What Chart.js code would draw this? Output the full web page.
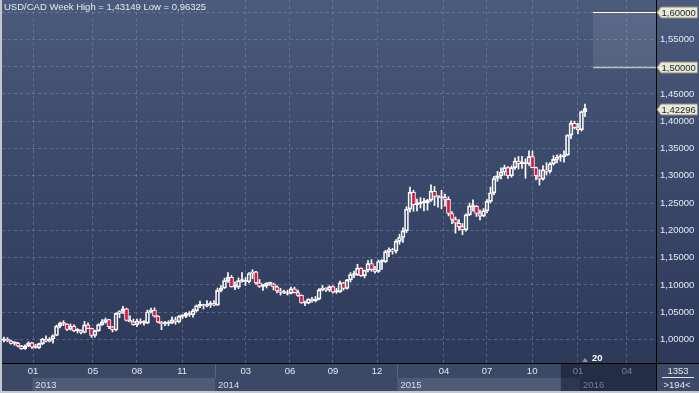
<!DOCTYPE html>
<html>
<head>
<meta charset="utf-8">
<script src="https://cdn.jsdelivr.net/npm/chart.js@4/dist/chart.umd.min.js"></script>
<style>
html, body { margin: 0; padding: 0; background: #3a4766; }
#wrap { width: 699px; height: 393px; position: relative; }
</style>
</head>
<body>
<div id="wrap"><canvas id="fxChart"></canvas></div>
<script>
// weekly USD/CAD candles, week 0 = 5 Nov 2012 ... week 166 = 11 Jan 2016
const opens = [
  0.9985, 1.0005, 0.9975, 0.9930, 0.9935, 0.9880, 0.9835, 0.9885, 0.9940, 0.9860,
  0.9850, 0.9925, 1.0010, 0.9970, 1.0010, 1.0075, 1.0245, 1.0300, 1.0285, 1.0185,
  1.0245, 1.0160, 1.0165, 1.0130, 1.0270, 1.0205, 1.0075, 1.0160, 1.0275, 1.0320,
  1.0365, 1.0235, 1.0175, 1.0480, 1.0515, 1.0565, 1.0350, 1.0325, 1.0275, 1.0340,
  1.0305, 1.0300, 1.0510, 1.0540, 1.0430, 1.0320, 1.0285, 1.0295, 1.0300, 1.0360,
  1.0325, 1.0425, 1.0430, 1.0480, 1.0455, 1.0530, 1.0620, 1.0635, 1.0615, 1.0635,
  1.0660, 1.0630, 1.0900, 1.0945, 1.1080, 1.1140, 1.0965, 1.0960, 1.1080, 1.1070,
  1.1060, 1.1210, 1.1240, 1.1040, 1.0975, 1.0985, 1.1030, 1.1020, 1.0965, 1.0890,
  1.0865, 1.0850, 1.0845, 1.0930, 1.0860, 1.0810, 1.0670, 1.0665, 1.0740, 1.0710,
  1.0740, 1.0910, 1.0945, 1.0905, 1.0970, 1.0870, 1.0875, 1.1040, 1.0935, 1.1095,
  1.1190, 1.1180, 1.1310, 1.1170, 1.1270, 1.1390, 1.1280, 1.1250, 1.1430, 1.1425,
  1.1610, 1.1650, 1.1620, 1.1800, 1.1870, 1.1990, 1.2390, 1.2700, 1.2470, 1.2490,
  1.2510, 1.2505, 1.2555, 1.2720, 1.2620, 1.2610, 1.2600, 1.2570, 1.2310, 1.2200,
  1.2130, 1.2070, 1.2010, 1.2285, 1.2450, 1.2440, 1.2310, 1.2260, 1.2360, 1.2530,
  1.2690, 1.2950, 1.3000, 1.3070, 1.3150, 1.3000, 1.3150, 1.3270, 1.3220, 1.3230,
  1.3220, 1.3350, 1.3150, 1.3000, 1.2940, 1.3110, 1.3080, 1.3220, 1.3300, 1.3340,
  1.3350, 1.3380, 1.3745, 1.3960, 1.3880, 1.3840, 1.4175
];
const highs = [
  1.0045, 1.0035, 0.9990, 0.9960, 0.9950, 0.9895, 0.9905, 0.9960, 0.9950, 0.9915,
  0.9935, 1.0025, 1.0070, 1.0035, 1.0085, 1.0265, 1.0320, 1.0345, 1.0295, 1.0285,
  1.0270, 1.0200, 1.0180, 1.0335, 1.0305, 1.0210, 1.0175, 1.0290, 1.0365, 1.0395,
  1.0370, 1.0240, 1.0490, 1.0530, 1.0610, 1.0575, 1.0435, 1.0375, 1.0375, 1.0380,
  1.0350, 1.0540, 1.0575, 1.0580, 1.0440, 1.0335, 1.0335, 1.0345, 1.0415, 1.0410,
  1.0445, 1.0455, 1.0500, 1.0515, 1.0560, 1.0635, 1.0705, 1.0650, 1.0715, 1.0700,
  1.0715, 1.0945, 1.0990, 1.1125, 1.1225, 1.1175, 1.1060, 1.1130, 1.1225, 1.1135,
  1.1225, 1.1280, 1.1250, 1.1100, 1.1015, 1.1045, 1.1055, 1.1035, 1.0990, 1.0940,
  1.0905, 1.0905, 1.0960, 1.0960, 1.0905, 1.0820, 1.0705, 1.0750, 1.0775, 1.0790,
  1.0935, 1.0990, 1.0950, 1.0990, 1.0985, 1.0940, 1.1070, 1.1050, 1.1105, 1.1225,
  1.1255, 1.1380, 1.1315, 1.1275, 1.1445, 1.1465, 1.1340, 1.1455, 1.1465, 1.1635,
  1.1680, 1.1670, 1.1830, 1.1930, 1.2045, 1.2435, 1.2795, 1.2735, 1.2575, 1.2600,
  1.2585, 1.2570, 1.2835, 1.2805, 1.2625, 1.2735, 1.2665, 1.2615, 1.2345, 1.2245,
  1.2200, 1.2125, 1.2305, 1.2500, 1.2560, 1.2455, 1.2370, 1.2400, 1.2565, 1.2795,
  1.2990, 1.3080, 1.3145, 1.3195, 1.3170, 1.3180, 1.3330, 1.3355, 1.3355, 1.3310,
  1.3455, 1.3455, 1.3160, 1.3110, 1.3185, 1.3240, 1.3240, 1.3370, 1.3385, 1.3395,
  1.3455, 1.3755, 1.4005, 1.4000, 1.3960, 1.4190, 1.43149
];
const lows = [
  0.9955, 0.9960, 0.9915, 0.9895, 0.9865, 0.9820, 0.9820, 0.9870, 0.9840, 0.9840,
  0.9835, 0.9905, 0.9955, 0.9955, 0.9935, 1.0070, 1.0215, 1.0255, 1.0165, 1.0175,
  1.0145, 1.0120, 1.0105, 1.0120, 1.0200, 1.0040, 1.0045, 1.0150, 1.0260, 1.0300,
  1.0200, 1.0140, 1.0160, 1.0400, 1.0475, 1.0340, 1.0325, 1.0260, 1.0235, 1.0285,
  1.0265, 1.0290, 1.0490, 1.0410, 1.0305, 1.0180, 1.0255, 1.0255, 1.0290, 1.0280,
  1.0305, 1.0385, 1.0400, 1.0425, 1.0410, 1.0505, 1.0585, 1.0560, 1.0600, 1.0590,
  1.0615, 1.0625, 1.0875, 1.0935, 1.1045, 1.0960, 1.0915, 1.0935, 1.1050, 1.0990,
  1.1040, 1.1115, 1.1015, 1.0955, 1.0900, 1.0945, 1.0990, 1.0910, 1.0855, 1.0815,
  1.0845, 1.0815, 1.0835, 1.0855, 1.0790, 1.0665, 1.0620, 1.0655, 1.0685, 1.0690,
  1.0725, 1.0890, 1.0880, 1.0880, 1.0850, 1.0845, 1.0865, 1.0905, 1.0925, 1.1055,
  1.1135, 1.1175, 1.1155, 1.1130, 1.1240, 1.1250, 1.1215, 1.1230, 1.1285, 1.1410,
  1.1520, 1.1565, 1.1585, 1.1745, 1.1780, 1.1960, 1.2335, 1.2350, 1.2355, 1.2410,
  1.2355, 1.2370, 1.2530, 1.2455, 1.2425, 1.2395, 1.2445, 1.2265, 1.2125, 1.1950,
  1.2005, 1.1920, 1.1985, 1.2270, 1.2350, 1.2255, 1.2190, 1.2250, 1.2320, 1.2505,
  1.2650, 1.2900, 1.2945, 1.3010, 1.2950, 1.2975, 1.3115, 1.3125, 1.3135, 1.2955,
  1.3190, 1.3155, 1.2925, 1.2830, 1.2920, 1.3015, 1.3050, 1.3195, 1.3235, 1.3265,
  1.3250, 1.3370, 1.3680, 1.3860, 1.3770, 1.3820, 1.4085
];
const closes = [
  1.0005, 0.9975, 0.9930, 0.9935, 0.9880, 0.9835, 0.9885, 0.9940, 0.9860, 0.9850,
  0.9925, 1.0010, 0.9970, 1.0010, 1.0075, 1.0245, 1.0300, 1.0285, 1.0185, 1.0245,
  1.0160, 1.0165, 1.0130, 1.0270, 1.0205, 1.0075, 1.0160, 1.0275, 1.0320, 1.0365,
  1.0235, 1.0175, 1.0480, 1.0515, 1.0565, 1.0350, 1.0325, 1.0275, 1.0340, 1.0305,
  1.0300, 1.0510, 1.0540, 1.0430, 1.0320, 1.0285, 1.0295, 1.0300, 1.0360, 1.0325,
  1.0425, 1.0430, 1.0480, 1.0455, 1.0530, 1.0620, 1.0635, 1.0615, 1.0635, 1.0660,
  1.0630, 1.0900, 1.0945, 1.1080, 1.1140, 1.0965, 1.0960, 1.1080, 1.1070, 1.1060,
  1.1210, 1.1240, 1.1040, 1.0975, 1.0985, 1.1030, 1.1020, 1.0965, 1.0890, 1.0865,
  1.0850, 1.0845, 1.0930, 1.0860, 1.0810, 1.0670, 1.0665, 1.0740, 1.0710, 1.0740,
  1.0910, 1.0945, 1.0905, 1.0970, 1.0870, 1.0875, 1.1040, 1.0935, 1.1095, 1.1190,
  1.1180, 1.1310, 1.1170, 1.1270, 1.1390, 1.1280, 1.1250, 1.1430, 1.1425, 1.1610,
  1.1650, 1.1620, 1.1800, 1.1870, 1.1990, 1.2390, 1.2700, 1.2470, 1.2490, 1.2510,
  1.2505, 1.2555, 1.2720, 1.2620, 1.2610, 1.2600, 1.2570, 1.2310, 1.2200, 1.2130,
  1.2070, 1.2010, 1.2285, 1.2450, 1.2440, 1.2310, 1.2260, 1.2360, 1.2530, 1.2690,
  1.2950, 1.3000, 1.3070, 1.3150, 1.3000, 1.3150, 1.3270, 1.3220, 1.3230, 1.3220,
  1.3350, 1.3150, 1.3000, 1.2940, 1.3110, 1.3080, 1.3220, 1.3300, 1.3340, 1.3350,
  1.3380, 1.3745, 1.3960, 1.3880, 1.3840, 1.4175, 1.42296
];

// axis stuff
const monthTickWeeks = [8.3, 25.4, 38, 50.9, 69.1, 81.7, 94, 106.6, 125.7, 138, 150.9, 164, 178];
const monthTickLabels = ['01', '05', '08', '11', '03', '06', '09', '12', '04', '07', '10', '01', '04'];
const yearStartWeeks = [8.1, 60.3, 112.4, 164.6];
const yearLabels = ['2013', '2014', '2015', '2016'];
const priceTicks = [1.00, 1.05, 1.10, 1.15, 1.20, 1.25, 1.30, 1.35, 1.40, 1.45, 1.50, 1.55, 1.60];
const markedLevels = [1.60, 1.50];
const zoneTop = 1.60;
const zoneBottom = 1.50;
const zoneFromWeek = 168.3;
const futureFromWeek = 159.1;
const titleText = 'USD/CAD Week High = 1,43149 Low = 0,96325';

const xMin = -0.571, xMax = 186.29;
const yMin = 0.9571, yMax = 1.6220;

const FONT = '"Liberation Sans", Arial, sans-serif';
const RED = '#e3153f';

const fmt = v => v.toFixed(5).replace('.', ',');

const weeks = closes.map((c, i) => i);
const lowerWicks = weeks.map(i => ({ x: i, y: [lows[i], Math.min(opens[i], closes[i])] }));
const upperWicks = weeks.map(i => ({ x: i, y: [Math.max(opens[i], closes[i]), highs[i]] }));
const bodies = weeks.map(i => ({ x: i, y: [opens[i], closes[i]] }));
const bodyColors = weeks.map(i => closes[i] < opens[i] ? RED : 'rgba(0,0,0,0)');

function drawTag(ctx, y, text) {
  ctx.save();
  ctx.beginPath();
  ctx.moveTo(657, y);
  ctx.lineTo(661, y - 5.5);
  ctx.lineTo(697.5, y - 5.5);
  ctx.lineTo(697.5, y + 5.5);
  ctx.lineTo(661, y + 5.5);
  ctx.closePath();
  ctx.fillStyle = '#ebe8d5';
  ctx.fill();
  ctx.strokeStyle = '#8e8c7c';
  ctx.lineWidth = 1;
  ctx.stroke();
  ctx.fillStyle = '#1b2232';
  ctx.font = '9.5px ' + FONT;
  ctx.textBaseline = 'middle';
  ctx.textAlign = 'left';
  ctx.fillText(text, 661.5, y + 0.5);
  ctx.restore();
}

const noEdgePadding = s => { s.paddingTop = 0; s.paddingBottom = 0; s.paddingLeft = 0; s.paddingRight = 0; };

const backdrop = {
  id: 'backdrop',
  beforeDraw(chart) {
    const ctx = chart.ctx;
    const x = chart.scales.x;
    const area = chart.chartArea;
    ctx.save();
    const g = ctx.createLinearGradient(0, 0, 0, area.bottom);
    g.addColorStop(0, '#4b5b7c');
    g.addColorStop(0.5, '#3a4869');
    g.addColorStop(1, '#2d3959');
    ctx.fillStyle = g;
    ctx.fillRect(0, 0, chart.width, area.bottom);
    // time axis
    ctx.fillStyle = '#3c4966';
    ctx.fillRect(0, area.bottom, chart.width, chart.height - area.bottom);
    for (let k = 0; k < yearStartWeeks.length; k++) {
      const x0 = x.getPixelForValue(yearStartWeeks[k]);
      const x1 = k + 1 < yearStartWeeks.length ? x.getPixelForValue(yearStartWeeks[k + 1]) : area.right;
      if (k % 2 === 0) {
        ctx.fillStyle = '#4e5c78';
        ctx.fillRect(x0, 378, x1 - x0, 13);
      }
      if (k > 0) {
        ctx.fillStyle = '#56647f';
        ctx.fillRect(Math.round(x0), area.bottom, 1, 15);
      }
    }
    ctx.restore();
  },
  afterDraw(chart) {
    const ctx = chart.ctx;
    const x = chart.scales.x;
    const y = chart.scales.y;
    const area = chart.chartArea;
    ctx.save();

    // year labels
    ctx.font = '9.5px ' + FONT;
    ctx.textBaseline = 'middle';
    ctx.textAlign = 'left';
    ctx.fillStyle = '#d8dee8';
    yearStartWeeks.forEach((w, k) => {
      ctx.fillText(yearLabels[k], x.getPixelForValue(w) + 3, 385);
    });

    // shaded future part of the time axis
    const fx = x.getPixelForValue(futureFromWeek);
    ctx.fillStyle = 'rgba(12,18,38,0.5)';
    ctx.fillRect(fx, area.bottom, area.right - fx, chart.height - area.bottom - 2);

    // price zone box
    const zx = x.getPixelForValue(zoneFromWeek);
    const zt = Math.round(y.getPixelForValue(zoneTop)) + 0.5;
    const zb = Math.round(y.getPixelForValue(zoneBottom)) + 0.5;
    ctx.fillStyle = 'rgba(255,255,255,0.09)';
    ctx.fillRect(zx, zt, area.right - zx, zb - zt);
    ctx.lineWidth = 1;
    ctx.strokeStyle = '#ffffff';
    ctx.beginPath(); ctx.moveTo(zx, zt); ctx.lineTo(area.right, zt); ctx.stroke();
    ctx.strokeStyle = '#b9bec9';
    ctx.lineWidth = 1.5;
    ctx.beginPath(); ctx.moveTo(zx, zb); ctx.lineTo(area.right, zb); ctx.stroke();

    // "20" marker
    const mx = x.getPixelForValue(yearStartWeeks[3]) + 5;
    ctx.fillStyle = '#8891a6';
    ctx.beginPath();
    ctx.moveTo(mx - 3, 362); ctx.lineTo(mx, 358); ctx.lineTo(mx + 3, 362); ctx.closePath();
    ctx.fill();
    ctx.fillStyle = '#ffffff';
    ctx.font = 'bold 9.5px ' + FONT;
    ctx.fillText('20', mx + 7, 358);

    // separator lines
    ctx.fillStyle = '#000000';
    ctx.fillRect(area.right, 0, 1, chart.height);
    ctx.fillRect(0, area.bottom, chart.width, 1);

    // level tags on the price axis
    markedLevels.forEach(v => drawTag(ctx, Math.round(y.getPixelForValue(v)) + 0.5, fmt(v)));
    const last = closes[closes.length - 1];
    drawTag(ctx, Math.round(y.getPixelForValue(last)) + 0.5, fmt(last));

    // title
    ctx.fillStyle = '#e4e9f2';
    ctx.font = '9.5px ' + FONT;
    ctx.textAlign = 'left';
    ctx.fillText(titleText, 4, 7);

    // bottom right counter
    ctx.textAlign = 'center';
    ctx.fillStyle = '#e0e6ef';
    ctx.fillText('1353', 678, 371);
    ctx.fillRect(662, 377, 32, 1);
    ctx.fillText('>194<', 677, 385);

    // frame
    ctx.fillStyle = '#c3c7cf';
    ctx.fillRect(0, 0, 2, chart.height);
    ctx.fillRect(0, chart.height - 2, chart.width, 2);
    ctx.restore();
  }
};

new Chart(document.getElementById('fxChart'), {
  type: 'bar',
  data: {
    datasets: [
      { label: 'low wick', data: lowerWicks, backgroundColor: '#ffffff', barThickness: 1, maxBarThickness: 1, grouped: false },
      { label: 'high wick', data: upperWicks, backgroundColor: '#ffffff', barThickness: 1, maxBarThickness: 1, grouped: false },
      {
        label: 'body', data: bodies, backgroundColor: bodyColors, borderColor: '#ffffff',
        borderWidth: 1, borderSkipped: false, barThickness: 4, maxBarThickness: 4,
        minBarLength: 1.5, grouped: false
      }
    ]
  },
  options: {
    responsive: true,
    maintainAspectRatio: false,
    animation: false,
    devicePixelRatio: 1,
    events: [],
    layout: { padding: { left: 2, top: 0, right: 0, bottom: 0 } },
    plugins: { legend: { display: false }, tooltip: { enabled: false } },
    scales: {
      x: {
        type: 'linear',
        min: xMin,
        max: xMax,
        offset: false,
        afterBuildTicks: s => { s.ticks = monthTickWeeks.map(v => ({ value: v })); },
        afterFit: s => { s.height = 30; noEdgePadding(s); },
        ticks: {
          autoSkip: false,
          maxRotation: 0,
          padding: 3,
          color: '#e2e8f2',
          font: { family: FONT, size: 9.5 },
          callback: (v, i) => monthTickLabels[i]
        },
        grid: { color: 'rgba(130,150,185,0.45)', drawTicks: false, offset: false },
        border: { display: false, dash: [3, 3] }
      },
      y: {
        position: 'right',
        min: yMin,
        max: yMax,
        afterBuildTicks: s => { s.ticks = priceTicks.map(v => ({ value: v })); },
        afterFit: s => { s.width = 43; noEdgePadding(s); },
        ticks: {
          autoSkip: false,
          padding: 4,
          crossAlign: 'near',
          color: '#e4eaf4',
          font: { family: FONT, size: 9.5 },
          callback: v => fmt(v)
        },
        grid: { color: 'rgba(130,150,185,0.45)', drawTicks: false },
        border: { display: false, dash: [3, 3] }
      }
    }
  },
  plugins: [backdrop]
});
</script>
</body>
</html>
